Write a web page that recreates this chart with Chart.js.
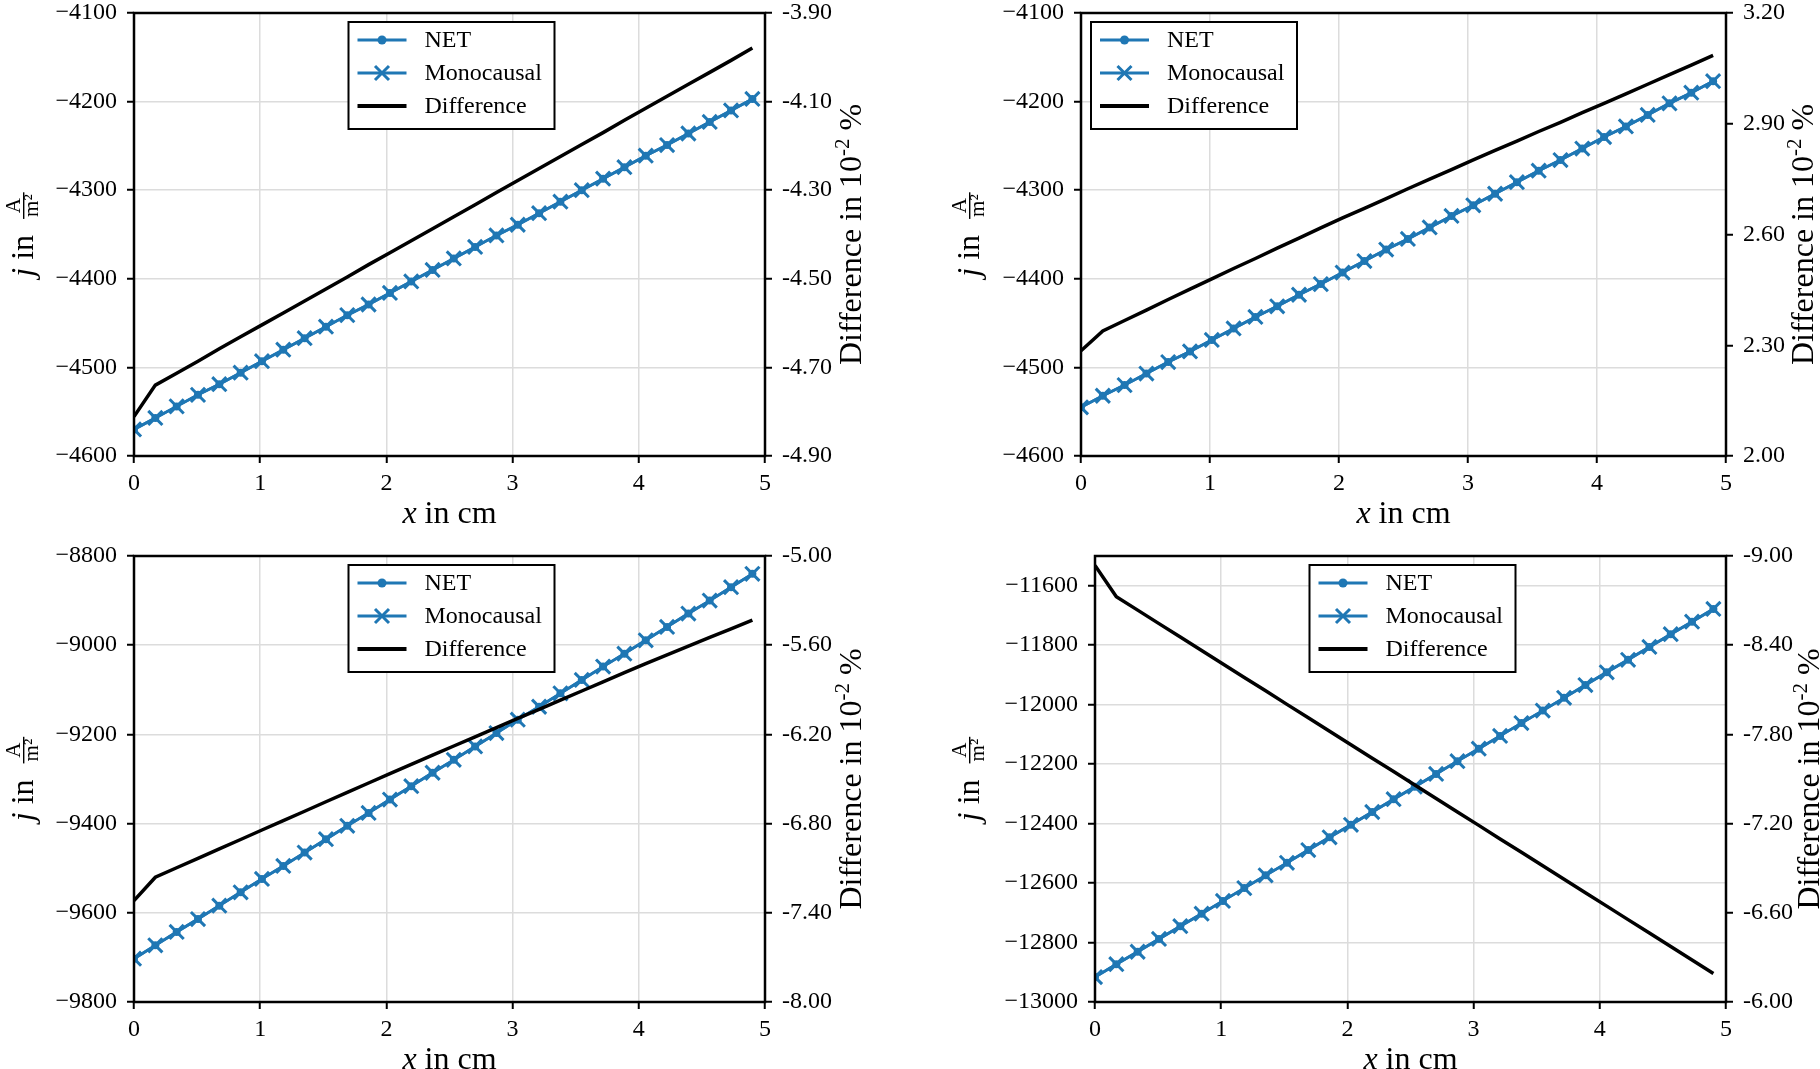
<!DOCTYPE html>
<html>
<head>
<meta charset="utf-8">
<title>NET vs Monocausal current density</title>
<script src="https://cdn.jsdelivr.net/npm/chart.js@4.4.1/dist/chart.umd.min.js"></script>
<style>
  html, body { margin: 0; padding: 0; background: #fff; }
  #wrap { position: relative; width: 1820px; height: 1069px; overflow: hidden; background: #fff; }
  #wrap canvas { position: absolute; left: 0; top: 0; }
</style>
</head>
<body>
<div id="wrap">
  <canvas id="tl" width="1820" height="1069"></canvas>
  <canvas id="tr" width="1820" height="1069"></canvas>
  <canvas id="bl" width="1820" height="1069"></canvas>
  <canvas id="br" width="1820" height="1069"></canvas>
</div>
<script>
// ---- data ----
const xs = [0, 0.169, 0.338, 0.507, 0.676, 0.845, 1.014, 1.183, 1.352, 1.521, 1.690, 1.859, 2.028, 2.197, 2.366,
            2.534, 2.703, 2.872, 3.041, 3.210, 3.379, 3.548, 3.717, 3.886, 4.055, 4.224, 4.393, 4.562, 4.731, 4.900];

// top left
const netTL  = [-4570, -4557, -4544, -4531, -4519, -4506, -4493, -4480, -4467, -4454, -4441, -4429, -4416, -4403, -4390,
                -4377, -4364, -4351, -4339, -4326, -4313, -4300, -4287, -4274, -4261, -4249, -4236, -4223, -4210, -4197];
const monoTL = [-4570, -4557, -4544, -4531, -4519, -4506, -4493, -4480, -4467, -4454, -4441, -4429, -4416, -4403, -4390,
                -4377, -4364, -4351, -4339, -4326, -4313, -4300, -4287, -4274, -4261, -4249, -4236, -4223, -4210, -4197];
const diffTL = [-4.811, -4.740, -4.713, -4.686, -4.658, -4.631, -4.604, -4.577, -4.550, -4.523, -4.496, -4.468, -4.441, -4.414, -4.387,
                -4.360, -4.333, -4.305, -4.278, -4.251, -4.224, -4.197, -4.170, -4.142, -4.115, -4.088, -4.061, -4.034, -4.007, -3.979];

// top right
const netTR  = [-4545, -4532, -4520, -4507, -4494, -4482, -4469, -4456, -4443, -4431, -4418, -4406, -4393, -4380, -4367,
                -4355, -4342, -4329, -4317, -4304, -4291, -4278, -4266, -4253, -4240, -4228, -4215, -4202, -4190, -4177];
const monoTR = [-4545, -4532, -4520, -4507, -4494, -4482, -4469, -4456, -4443, -4431, -4418, -4406, -4393, -4380, -4367,
                -4355, -4342, -4329, -4317, -4304, -4291, -4278, -4266, -4253, -4240, -4228, -4215, -4202, -4190, -4177];
const diffTR = [2.285, 2.339, 2.367, 2.395, 2.424, 2.452, 2.480, 2.508, 2.535, 2.563, 2.590, 2.618, 2.645, 2.671, 2.697,
                2.724, 2.750, 2.776, 2.802, 2.828, 2.853, 2.879, 2.904, 2.930, 2.955, 2.981, 3.007, 3.033, 3.059, 3.085];

// bottom left
const netBL  = [-9703, -9673, -9643, -9614, -9584, -9554, -9524, -9495, -9465, -9435, -9405, -9376, -9346, -9316, -9286,
                -9257, -9227, -9197, -9167, -9138, -9108, -9078, -9048, -9019, -8989, -8959, -8929, -8900, -8870, -8840];
const monoBL = [-9703, -9673, -9643, -9614, -9584, -9554, -9524, -9495, -9465, -9435, -9405, -9376, -9346, -9316, -9286,
                -9257, -9227, -9197, -9167, -9138, -9108, -9078, -9048, -9019, -8989, -8959, -8929, -8900, -8870, -8840];
const diffBL = [-7.318, -7.161, -7.097, -7.034, -6.970, -6.907, -6.843, -6.780, -6.717, -6.653, -6.590, -6.527, -6.464, -6.402, -6.340,
                -6.278, -6.216, -6.154, -6.092, -6.031, -5.969, -5.908, -5.847, -5.785, -5.724, -5.665, -5.607, -5.548, -5.490, -5.431];

// bottom right
const netBR  = [-12916, -12873, -12831, -12788, -12745, -12703, -12660, -12617, -12574, -12532, -12489, -12446, -12404, -12361, -12318,
                -12276, -12233, -12190, -12148, -12105, -12062, -12020, -11977, -11934, -11891, -11849, -11806, -11763, -11721, -11678];
const monoBR = [-12916, -12873, -12831, -12788, -12745, -12703, -12660, -12617, -12574, -12532, -12489, -12446, -12404, -12361, -12318,
                -12276, -12233, -12190, -12148, -12105, -12062, -12020, -11977, -11934, -11891, -11849, -11806, -11763, -11721, -11678];
const diffBR = [-8.937, -8.726, -8.636, -8.545, -8.455, -8.364, -8.274, -8.183, -8.093, -8.002, -7.912, -7.821, -7.731, -7.640, -7.550,
                -7.459, -7.369, -7.278, -7.188, -7.097, -7.007, -6.916, -6.826, -6.735, -6.645, -6.554, -6.464, -6.373, -6.283, -6.192];

// tick labels
const xTicks = [0, 1, 2, 3, 4, 5];
const jTicksTop = [-4600, -4500, -4400, -4300, -4200, -4100];
const jTicksBL = [-9800, -9600, -9400, -9200, -9000, -8800];
const jTicksBR = [-13000, -12800, -12600, -12400, -12200, -12000, -11800, -11600];
const diffTicksTL = [-4.9, -4.7, -4.5, -4.3, -4.1, -3.9];
const diffTicksTR = [2.0, 2.3, 2.6, 2.9, 3.2];
const diffTicksBL = [-8.0, -7.4, -6.8, -6.2, -5.6, -5.0];
const diffTicksBR = [-9.0, -8.4, -7.8, -7.2, -6.6, -6.0];

// ---- layout ----
const W = 1820, H = 1069;
const BLUE = '#1f77b4';
const GRID = '#dcdcdc';
const SERIF = '"Liberation Serif", "DejaVu Serif", serif';
const TICK_FONT = { family: SERIF, size: 24 };
const LW = 110, RW = 90, XH = 45;   // fixed scale box sizes
Chart.defaults.font.family = SERIF;
Chart.defaults.font.size = 24;
Chart.defaults.color = '#000';

const panels = [
  { id: 'tl', area: [134, 10, 765, 456], net: netTL, mono: monoTL, diff: diffTL,
    jTicks: jTicksTop, jRange: [-4600, -4100], dTicks: diffTicksTL, dRange: [-4.9, -3.9], reverse: false,
    legend: 'center', yTitleX: 33, rTitleX: 861 },
  { id: 'tr', area: [1081, 10, 1726, 456], net: netTR, mono: monoTR, diff: diffTR,
    jTicks: jTicksTop, jRange: [-4600, -4100], dTicks: diffTicksTR, dRange: [2.0, 3.2], reverse: false,
    legend: 'left', yTitleX: 979, rTitleX: 1813 },
  { id: 'bl', area: [134, 556, 765, 1002], net: netBL, mono: monoBL, diff: diffBL,
    jTicks: jTicksBL, jRange: [-9800, -8800], dTicks: diffTicksBL, dRange: [-8.0, -5.0], reverse: false,
    legend: 'center', yTitleX: 33, rTitleX: 861 },
  { id: 'br', area: [1095, 556, 1726, 1002], net: netBR, mono: monoBR, diff: diffBR,
    jTicks: jTicksBR, jRange: [-13000, -11500], dTicks: diffTicksBR, dRange: [-9.0, -6.0], reverse: true,
    legend: 'center', yTitleX: 979, rTitleX: 1819 },
];

const pts = arr => xs.map((x, i) => ({ x, y: arr[i] }));
const minus = v => (v < 0 ? '\u2212' : '') + Math.abs(v);

// draw a row of text pieces centered on x=0, baseline y=0
function drawRuns(ctx, runs) {
  let total = 0;
  runs.forEach(r => { ctx.font = r.font; r.w = r.w || ctx.measureText(r.t).width; total += r.w; });
  let x = -total / 2;
  runs.forEach(r => {
    ctx.font = r.font;
    if (r.draw) r.draw(ctx, x);
    else ctx.fillText(r.t, x, r.dy || 0);
    x += r.w;
  });
}

function decoPlugin(p) {
  return {
    id: 'deco_' + p.id,
    afterDatasetsDraw(chart) {
      const ctx = chart.ctx;
      const a = chart.chartArea;
      ctx.save();
      // frame
      ctx.strokeStyle = '#000';
      ctx.lineWidth = 2.5;
      ctx.strokeRect(a.left, a.top, a.right - a.left, a.bottom - a.top);

      // legend
      const bw = 206, bh = 107;
      const bx = p.legend === 'left' ? a.left + 10 : (a.left + a.right) / 2 - bw / 2 + 2;
      const by = a.top + 9;
      ctx.fillStyle = '#fff';
      ctx.fillRect(bx, by, bw, bh);
      ctx.lineWidth = 2;
      ctx.strokeRect(bx, by, bw, bh);
      const rows = [
        { label: 'NET', color: BLUE, lw: 2.8, marker: 'dot' },
        { label: 'Monocausal', color: BLUE, lw: 2.8, marker: 'x' },
        { label: 'Difference', color: '#000', lw: 4, marker: null },
      ];
      rows.forEach((r, i) => {
        const y = by + 18 + i * 33;
        const x0 = bx + 9, x1 = bx + 58, xm = (x0 + x1) / 2;
        ctx.strokeStyle = r.color;
        ctx.lineWidth = r.lw;
        ctx.beginPath(); ctx.moveTo(x0, y); ctx.lineTo(x1, y); ctx.stroke();
        if (r.marker === 'dot') {
          ctx.fillStyle = r.color;
          ctx.beginPath(); ctx.arc(xm, y, 4.5, 0, Math.PI * 2); ctx.fill();
        } else if (r.marker === 'x') {
          ctx.lineWidth = 3;
          ctx.beginPath();
          ctx.moveTo(xm - 7, y - 7); ctx.lineTo(xm + 7, y + 7);
          ctx.moveTo(xm - 7, y + 7); ctx.lineTo(xm + 7, y - 7);
          ctx.stroke();
        }
        ctx.fillStyle = '#000';
        ctx.font = '24px ' + SERIF;
        ctx.textBaseline = 'middle';
        ctx.textAlign = 'left';
        ctx.fillText(r.label, bx + 76, y + 1);
      });

      ctx.textBaseline = 'alphabetic';
      ctx.textAlign = 'left';
      ctx.fillStyle = '#000';
      const big = '32px ' + SERIF, ital = 'italic 32px ' + SERIF, small = '21px ' + SERIF;

      // x title
      ctx.save();
      ctx.translate((a.left + a.right) / 2, a.bottom + 67);
      drawRuns(ctx, [{ t: 'x', font: ital }, { t: ' in cm', font: big }]);
      ctx.restore();

      // left y title: j in A/m^2
      ctx.save();
      ctx.translate(p.yTitleX, (a.top + a.bottom) / 2);
      ctx.rotate(-Math.PI / 2);
      ctx.font = small;
      const wA = ctx.measureText('A').width, wm = ctx.measureText('m\u00b2').width;
      const wf = Math.max(wA, wm) + 4;
      drawRuns(ctx, [
        { t: 'j', font: ital },
        { t: ' in  ', font: big },
        { t: '', font: small, w: wf, draw: (c, x) => {
            c.fillRect(x, -10, wf, 1.4);
            c.fillText('A', x + (wf - wA) / 2, -13);
            c.fillText('m\u00b2', x + (wf - wm) / 2, 5);
          } },
      ]);
      ctx.restore();

      // right y title: Difference in 10^-2 %
      ctx.save();
      ctx.translate(p.rTitleX, (a.top + a.bottom) / 2);
      ctx.rotate(-Math.PI / 2);
      drawRuns(ctx, [
        { t: 'Difference in 10', font: big },
        { t: '-2', font: small, dy: -12 },
        { t: ' %', font: big },
      ]);
      ctx.restore();

      ctx.restore();
    }
  };
}

function makeChart(p) {
  const [L, T, R, B] = p.area;
  const gridOpts = { color: GRID, lineWidth: 1.5, tickColor: '#000', tickWidth: 2, tickLength: 7 };
  const setTicks = arr => s => { s.ticks = arr.map(v => ({ value: v })); };
  const fitV = w => s => { s.width = w; s.paddingTop = 0; s.paddingBottom = 0; };
  new Chart(document.getElementById(p.id), {
    type: 'line',
    data: {
      datasets: [
        { label: 'Difference', data: pts(p.diff), yAxisID: 'y1', borderColor: '#000', borderWidth: 3.5,
          pointRadius: 0, order: 0 },
        { label: 'Monocausal', data: pts(p.mono), yAxisID: 'y', borderColor: BLUE, borderWidth: 2.8,
          pointStyle: 'crossRot', pointRadius: 10, pointBorderWidth: 3, pointBorderColor: BLUE,
          pointBackgroundColor: BLUE, order: 1 },
        { label: 'NET', data: pts(p.net), yAxisID: 'y', borderColor: BLUE, borderWidth: 2.8,
          pointStyle: 'circle', pointRadius: 4, pointBorderWidth: 0, pointBackgroundColor: BLUE, order: 2 },
      ]
    },
    options: {
      responsive: false,
      animation: false,
      devicePixelRatio: 1,
      layout: { padding: { left: L - LW, right: W - R - RW, top: T, bottom: H - B - XH } },
      plugins: { legend: { display: false }, tooltip: { enabled: false } },
      elements: { line: { tension: 0 } },
      scales: {
        x: {
          type: 'linear', position: 'bottom', min: 0, max: 5,
          afterBuildTicks: setTicks(xTicks),
          afterFit: s => { s.height = XH; s.paddingLeft = 0; s.paddingRight = 0; },
          grid: gridOpts, border: { display: false },
          ticks: { padding: 6, maxRotation: 0, font: TICK_FONT, color: '#000', callback: v => String(v) }
        },
        y: {
          type: 'linear', position: 'left', min: p.jRange[0], max: p.jRange[1],
          afterBuildTicks: setTicks(p.jTicks), afterFit: fitV(LW),
          grid: gridOpts, border: { display: false },
          ticks: { padding: 10, font: TICK_FONT, color: '#000', callback: v => minus(v) }
        },
        y1: {
          type: 'linear', position: 'right', min: p.dRange[0], max: p.dRange[1], reverse: p.reverse,
          afterBuildTicks: setTicks(p.dTicks), afterFit: fitV(RW),
          grid: { ...gridOpts, drawOnChartArea: false }, border: { display: false },
          ticks: { padding: 10, font: TICK_FONT, color: '#000', callback: v => v.toFixed(2) }
        }
      }
    },
    plugins: [decoPlugin(p)]
  });
}

panels.forEach(makeChart);
</script>
</body>
</html>
